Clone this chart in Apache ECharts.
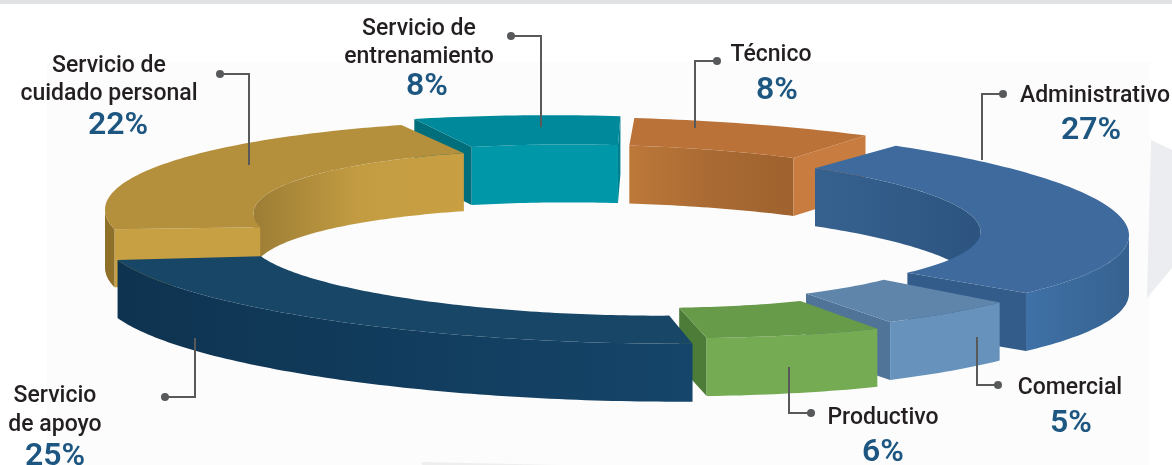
<!DOCTYPE html>
<html><head><meta charset="utf-8">
<style>html,body{margin:0;padding:0;background:#fff}#c{width:1172px;height:465px}</style>
<script src="https://cdn.jsdelivr.net/npm/echarts@6/dist/echarts.min.js"></script>
</head><body><div id="c"></div>
<script>
// Data, clockwise from the upper right
const categories = ['Administrativo','Comercial','Productivo','Servicio de apoyo','Servicio de cuidado personal','Servicio de entrenamiento','Técnico'];
const labelLines = [['Administrativo'],['Comercial'],['Productivo'],['Servicio','de apoyo'],['Servicio de','cuidado personal'],['Servicio de','entrenamiento'],['Técnico']];
const shares = [27,5,6,25,22,8,8];

// Projection of the ring
const ring = {cx:617, cy:230, rx:512, ry:115, hole:0.71, depth:58, tilt:0.024, degPerShare:3.36, startDeg:-57};
// Per-slice layout: gap before the slice, sweep correction, explode offset, ellipse squash
const gapBefore = [0,1.7,3.3,1.6,4,2.2,1];
const sweepFix  = [1.036,1,1.02,1,1.03,0.88,1.008];
const shiftX    = [0,-17,-5,-5,0,-5,0];
const shiftY    = [-7,-6,3,17,-8,-14,-17];
const squash    = [0.87,0.96,0.91,0.834,0.88,0.87,0.83];
// Back slices are painted first
const paintOrder = [5,6,0,1,2,4,3];
// Colours: top, inner wall stops, outer wall stops, start cap, end cap
const tops   = ['#3e6a9e','#5f85ab','#679a49','#174666','#b48f3c','#00899a','#bb7239'];
const inners = [['#36618f','#2d5480'],['#5f85ab','#5f85ab'],['#679a49','#679a49'],['#174666','#174666'],['#9c7d35','#c39c42','#c99f42'],['#0097a9','#0097a9'],['#bd7839','#a96a33','#9f622e']];
const outers = [['#3f71a7','#36628f'],['#6792bc','#6792bc'],['#74ab53','#74ab53'],['#0e3350','#15456a'],['#8f7029','#8f7029'],['#0097a9','#0097a9'],['#c4793e','#c4793e']];
const startCaps = ['#335c8a','#507497','#4d7c38','#174666','#c8a044','#006f7b','#a96a33'];
const endCaps   = ['#335c8a','#507497','#4d7c38','#174666','#c8a044','#00808f','#c97c40'];
// Labels and leader lines
const labelX   = [1095,1070,883,55,109,419,771];
const nameY    = [[96],[388],[418],[396,425],[66,94],[29,57],[55]];
const pctX     = [1091,1071,883,55,118,427,777];
const pctY     = [131,424,453,457,126,87,91];
const leaderDot= [[1003,94],[998,385],[811,413],[165,397],[220,74],[511,36],[717,61]];
const leaderElb= [[982,94],[977,385],[789,413],[195,397],[249,74],[541,36],[695,61]];
const leaderEnd= [[982,160],[977,337],[789,367],[195,338],[249,165],[541,127],[695,128]];

const rad = d => d*Math.PI/180;
const spans = (() => {
  const out=[]; let a=ring.startDeg;
  shares.forEach((s,i)=>{ a+=gapBefore[i]; const b=a+s*ring.degPerShare*sweepFix[i]; out.push([a,b]); a=b; });
  return out;
})();
function pt(i,deg,frac,z){
  const c=Math.cos(rad(deg)), s=Math.sin(rad(deg));
  const px=frac*ring.rx*c;
  return [ring.cx+shiftX[i]+px, ring.cy+shiftY[i]+frac*ring.ry*squash[i]*s+ring.tilt*px+z];
}
function arc(i,a,b,frac,z){
  const n=Math.max(2,Math.ceil(Math.abs(b-a))), p=[];
  for(let k=0;k<=n;k++) p.push(pt(i,a+(b-a)*k/n,frac,z));
  return p;
}
function hGrad(stops){
  const n=stops.length-1;
  return new echarts.graphic.LinearGradient(0,0,1,0,stops.map((c,k)=>({offset:n?k/n:0,color:c})));
}
function poly(points,fill){ return {type:'polygon',shape:{points},style:{fill,stroke:null}}; }
// Part of [a,b] where the sine has the wanted sign (walls facing the viewer)
function visibleParts(a,b,front){
  const parts=[]; const cuts=[a];
  for(let m=-360;m<=720;m+=180) if(m>a&&m<b) cuts.push(m);
  cuts.push(b);
  for(let k=0;k<cuts.length-1;k++){
    const mid=(cuts[k]+cuts[k+1])/2, s=Math.sin(rad(mid));
    if((s>0)===front) parts.push([cuts[k],cuts[k+1]]);
  }
  return parts;
}
function renderSlice(params,api){
  const i=api.value(0), [a,b]=spans[i], d=ring.depth, h=ring.hole, kids=[];
  // inner wall (back half)
  visibleParts(a,b,false).forEach(([u,v])=>kids.push(poly(arc(i,u,v,h,0).concat(arc(i,v,u,h,d)),hGrad(inners[i]))));
  // end caps
  if(Math.cos(rad(a))<0) kids.push(poly([pt(i,a,h,0),pt(i,a,1,0),pt(i,a,1,d),pt(i,a,h,d)],startCaps[i]));
  if(Math.cos(rad(b))>0) kids.push(poly([pt(i,b,h,0),pt(i,b,1,0),pt(i,b,1,d),pt(i,b,h,d)],endCaps[i]));
  // outer wall (front half)
  visibleParts(a,b,true).forEach(([u,v])=>kids.push(poly(arc(i,u,v,1,0).concat(arc(i,v,u,1,d)),hGrad(outers[i]))));
  // top face
  kids.push(poly(arc(i,a,b,1,0).concat(arc(i,b,a,h,0)),tops[i]));
  return {type:'group',children:kids};
}
function renderLabel(params,api){
  const i=api.value(0), kids=[], line='#58595b';
  const [dot,elb,end]=[leaderDot[i],leaderElb[i],leaderEnd[i]];
  kids.push({type:'polyline',shape:{points:[dot,elb,end]},style:{stroke:line,lineWidth:2,fill:null}});
  kids.push({type:'circle',shape:{cx:dot[0],cy:dot[1],r:4},style:{fill:line}});
  labelLines[i].forEach((t,k)=>kids.push({type:'text',style:{text:t,x:labelX[i],y:nameY[i][k],align:'center',verticalAlign:'middle',
    font:'500 23px Roboto',fill:'#231f20'}}));
  kids.push({type:'text',style:{text:shares[i]+'%',x:pctX[i],y:pctY[i],align:'center',verticalAlign:'middle',
    font:'600 32px Roboto',fill:'#1d5680'}});
  return {type:'group',children:kids};
}
const chart=echarts.init(document.getElementById('c'),null,{renderer:'canvas'});
chart.setOption({
  animation:false,
  backgroundColor:'#ffffff',
  graphic:[
    {type:'rect',z:-10,shape:{x:47,y:62,width:1103,height:403},style:{fill:'#fcfcfc'},silent:true},
    {type:'rect',z:-9,shape:{x:0,y:0,width:1172,height:4},style:{fill:'#e1e2e4'},silent:true},
    {type:'polygon',z:-9,shape:{points:[[1151,140],[1172,150],[1172,268],[1147,298]]},style:{fill:'#ecedf0'},silent:true},
    {type:'polygon',z:-9,shape:{points:[[422,465],[422,462],[560,465]]},style:{fill:'#eeeeee'},silent:true}
  ],
  series:[
    {type:'custom',coordinateSystem:'none',silent:true,z:2,data:paintOrder.map(i=>[i,categories[i],shares[i]]),renderItem:renderSlice},
    {type:'custom',coordinateSystem:'none',silent:true,z:3,data:paintOrder.map(i=>[i,categories[i],shares[i]]),renderItem:renderLabel}
  ]
});
</script></body></html>
